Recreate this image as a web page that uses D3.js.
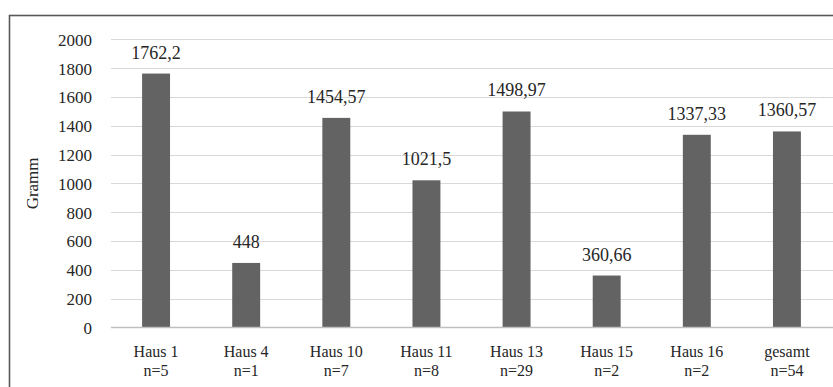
<!DOCTYPE html>
<html>
<head>
<meta charset="utf-8">
<script src="https://cdn.jsdelivr.net/npm/d3@7"></script>
<style>
  html, body { margin: 0; padding: 0; background: #fff; }
  svg { display: block; }
  text { font-family: "Liberation Serif", "DejaVu Serif", serif; fill: #262626; }
</style>
</head>
<body>
<svg id="chart" width="833" height="387"></svg>
<script>
// Mean weight per house (grams)
const houses = ["Haus 1", "Haus 4", "Haus 10", "Haus 11", "Haus 13", "Haus 15", "Haus 16", "gesamt"];
const counts = ["n=5", "n=1", "n=7", "n=8", "n=29", "n=2", "n=2", "n=54"];
const values = [1762.2, 448, 1454.57, 1021.5, 1498.97, 360.66, 1337.33, 1360.57];
const valueLabels = ["1762,2", "448", "1454,57", "1021,5", "1498,97", "360,66", "1337,33", "1360,57"];
const yTicks = [0, 200, 400, 600, 800, 1000, 1200, 1400, 1600, 1800, 2000];
const yTitle = "Gramm";

const svg = d3.select("#chart");
const W = 833, H = 387;
const margin = { top: 39.3, right: 1, bottom: H - 327.5, left: 111 };

// outer frame (runs past the right and bottom edges)
svg.append("rect")
  .attr("x", 9.5).attr("y", 15.5)
  .attr("width", W + 20).attr("height", H + 20)
  .attr("fill", "none").attr("stroke", "#595959").attr("stroke-width", 1.6);

const x = d3.scaleBand()
  .domain(houses)
  .range([margin.left, W - margin.right])
  .paddingInner(0.69).paddingOuter(0.345);

const y = d3.scaleLinear()
  .domain([0, 2000])
  .range([H - margin.bottom, margin.top]);

// gridlines
svg.append("g")
  .selectAll("line")
  .data(yTicks.filter(d => d > 0))
  .join("line")
  .attr("x1", margin.left).attr("x2", W)
  .attr("y1", d => Math.round(y(d)) + 0.5).attr("y2", d => Math.round(y(d)) + 0.5)
  .attr("stroke", "#d9d9d9").attr("stroke-width", 1);

// y axis labels
const yAxis = d3.axisLeft(y).tickValues(yTicks).tickFormat(d3.format("d")).tickSize(0).tickPadding(19);
const gy = svg.append("g").attr("transform", `translate(${margin.left},0)`).call(yAxis);
gy.select(".domain").remove();
gy.attr("font-family", null).attr("font-size", null);
gy.selectAll("text")
  .style("font-size", "17px").attr("fill", "#262626").attr("dy", "0.35em");

// bars
svg.append("g")
  .selectAll("rect")
  .data(values)
  .join("rect")
  .attr("x", (d, i) => x(houses[i]))
  .attr("y", d => y(d))
  .attr("width", x.bandwidth())
  .attr("height", d => y(0) - y(d))
  .attr("fill", "#636363");

// baseline
svg.append("line")
  .attr("x1", margin.left).attr("x2", W)
  .attr("y1", y(0)).attr("y2", y(0))
  .attr("stroke", "#bfbfbf").attr("stroke-width", 1.5);

// value labels
svg.append("g")
  .selectAll("text")
  .data(values)
  .join("text")
  .attr("x", (d, i) => x(houses[i]) + x.bandwidth() / 2)
  .attr("y", d => y(d) - 15)
  .attr("text-anchor", "middle")
  .style("font-size", "18px")
  .text((d, i) => valueLabels[i]);

// category labels: name line and count line
const labelX = d => x(d) + x.bandwidth() / 2;
svg.append("g")
  .selectAll("text")
  .data(houses)
  .join("text")
  .attr("x", labelX)
  .attr("y", 356.5)
  .attr("text-anchor", "middle")
  .style("font-size", "16px")
  .text(d => d);
svg.append("g")
  .selectAll("text")
  .data(houses)
  .join("text")
  .attr("x", labelX)
  .attr("y", 375.5)
  .attr("text-anchor", "middle")
  .style("font-size", "16px")
  .text((d, i) => counts[i]);

// y axis title
svg.append("text")
  .attr("transform", `translate(38, ${(y(0) + y(2000)) / 2}) rotate(-90)`)
  .attr("text-anchor", "middle")
  .style("font-size", "17px")
  .text(yTitle);
</script>
</body>
</html>
